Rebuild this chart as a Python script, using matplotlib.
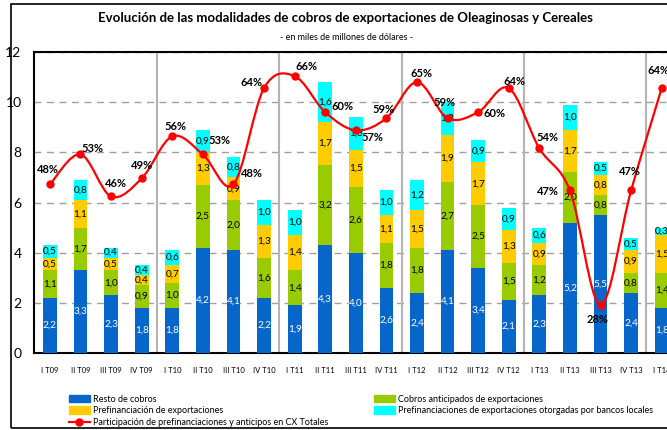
import matplotlib
matplotlib.use('Agg')
import matplotlib.pyplot as plt
from matplotlib.path import Path
from matplotlib.patches import PathPatch, Rectangle, Patch
from matplotlib.lines import Line2D
import numpy as np

quarters = ['I T09', 'II T09', 'III T09', 'IV T09',
            'I T10', 'II T10', 'III T10', 'IV T10',
            'I T11', 'II T11', 'III T11', 'IV T11',
            'I T12', 'II T12', 'III T12', 'IV T12',
            'I T13', 'II T13', 'III T13', 'IV T13', 'I T14']
resto = [2.2, 3.3, 2.3, 1.8, 1.8, 4.2, 4.1, 2.2, 1.9, 4.3, 4.0,
         2.6, 2.4, 4.1, 3.4, 2.1, 2.3, 5.2, 5.5, 2.4, 1.8]
cobros_ant = [1.1, 1.7, 1.0, 0.9, 1.0, 2.5, 2.0, 1.6, 1.4, 3.2, 2.6,
              1.8, 1.8, 2.7, 2.5, 1.5, 1.2, 2.0, 0.8, 0.8, 1.4]
prefin = [0.5, 1.1, 0.5, 0.4, 0.7, 1.3, 0.9, 1.3, 1.4, 1.7, 1.5,
          1.1, 1.5, 1.9, 1.7, 1.3, 0.9, 1.7, 0.8, 0.9, 1.5]
prefin_bancos = [0.5, 0.8, 0.4, 0.4, 0.6, 0.9, 0.8, 1.0, 1.0, 1.6, 1.3,
                 1.0, 1.2, 1.3, 0.9, 0.9, 0.6, 1.0, 0.5, 0.5, 0.3]
participacion = [48, 53, 46, 49, 56, 53, 48, 64, 66, 60, 57,
                 59, 65, 59, 60, 64, 54, 47, 28, 47, 64]

# where each % label sits relative to its point (pixels)
pct_offsets = [(-2, 15), (12, 6), (5, 13), (0, 13), (3, 10), (17, 14), (18, 11),
               (-13, 6), (12, 10), (17, 6), (17, -7), (-3, 9), (5, 9), (-3, 16),
               (16, -1), (6, 7), (8, 11), (-22, -1), (-3, -15), (-1, 19), (-3, 18)]

c_resto = '#0766c9'
c_cobros = '#99cc00'
c_prefin = '#ffcc00'
c_bancos = '#00ffff'
c_red = '#ff0000'

plt.rcParams['font.family'] = ['Lato', 'DejaVu Sans']

W, H = 667, 430
fig = plt.figure(figsize=(W / 100, H / 100), dpi=100)
ax = fig.add_axes([34 / W, 77 / H, 643 / W, 301 / H])

x = np.arange(len(quarters))
bw = 0.45
series = [(resto, c_resto, 'white'), (cobros_ant, c_cobros, 'black'),
          (prefin, c_prefin, 'black'), (prefin_bancos, c_bancos, 'black')]
bottom = np.zeros(len(x))
for vals, col, tcol in series:
    vals = np.array(vals)
    ax.bar(x, vals, bw, bottom=bottom, color=col, zorder=3)
    for xi, b, v in zip(x, bottom, vals):
        ax.text(xi, b + v / 2, f'{v:.1f}'.replace('.', ','), ha='center', va='center',
                fontsize=7.2, color=tcol, zorder=4)
    bottom += vals

ax.set_xlim(-0.52, 20.5)
ax.set_ylim(0, 12)
ax.set_yticks(range(0, 13, 2))
ax.set_xticks(x)
ax.set_xticklabels(quarters, fontsize=5.5)
ax.tick_params(axis='y', length=0, pad=9, labelsize=10)
ax.tick_params(axis='x', length=0, pad=10)
ax.yaxis.grid(True, linestyle=(0, (5, 4)), color='#a0a0a0', lw=1)
ax.set_axisbelow(True)
for sep in [3.5, 7.5, 11.5, 15.5, 19.5]:
    ax.axvline(sep, color='#b4b4b4', lw=1.5, zorder=1)
for s in ['top', 'left', 'bottom']:
    ax.spines[s].set_linewidth(1.5)
    ax.spines[s].set_color('black')
ax.spines['right'].set_visible(False)

# percentage line, smoothed like the original chart
ax2 = ax.twinx()
ax2.set_ylim(20, 70)
ax2.axis('off')
pts = np.column_stack([x, participacion]).astype(float)
ext = np.vstack([pts[0], pts, pts[-1]])
verts = [tuple(pts[0])]
codes = [Path.MOVETO]
for i in range(len(pts) - 1):
    p0, p1, p2, p3 = ext[i], ext[i + 1], ext[i + 2], ext[i + 3]
    c1 = p1 + (p2 - p0) / 6
    c2 = p2 - (p3 - p1) / 6
    verts += [tuple(c1), tuple(c2), tuple(p2)]
    codes += [Path.CURVE4] * 3
ax2.add_patch(PathPatch(Path(verts, codes), fill=False, ec=c_red, lw=1.6, zorder=5))
ax2.plot(x, participacion, 'o', color=c_red, ms=5, zorder=6)
for xi, p, (dx, dy) in zip(x, participacion, pct_offsets):
    ax2.annotate(f'{p}%', (xi, p), xytext=(dx, dy), textcoords='offset pixels',
                 ha='center', va='center', fontsize=8, fontweight='bold', zorder=7)

fig.text(345 / W, 1 - 18 / H,
         'Evolución de las modalidades de cobros de exportaciones de Oleaginosas y Cereales',
         ha='center', va='center', fontsize=9.5, fontweight='bold')
fig.text(347 / W, 1 - 38 / H, '- en miles de millones de dólares -',
         ha='center', va='center', fontsize=6.5)

fig.add_artist(Rectangle((11 / W, 2 / H), 1, 424 / H, transform=fig.transFigure,
                         fill=False, ec='black', lw=1.2))

leg_kw = dict(frameon=False, fontsize=6.5, borderpad=0, labelspacing=0.3,
              handlelength=2.4, handleheight=0.9, handletextpad=0.3, loc='upper left')
h1 = [Patch(color=c_resto), Patch(color=c_prefin),
      Line2D([], [], color=c_red, lw=1.6, marker='o', ms=5)]
fig.legend(h1, ['Resto de cobros', 'Prefinanciación de exportaciones',
                'Participación de prefinanciaciones y anticipos en CX Totales'],
           bbox_to_anchor=(64 / W, 1 - 390 / H), **leg_kw)
h2 = [Patch(color=c_cobros), Patch(color=c_bancos)]
fig.legend(h2, ['Cobros anticipados de exportaciones',
                'Prefinanciaciones de exportaciones otorgadas por bancos locales'],
           bbox_to_anchor=(369 / W, 1 - 390 / H), **leg_kw)

fig.savefig('out.png', dpi=100)
